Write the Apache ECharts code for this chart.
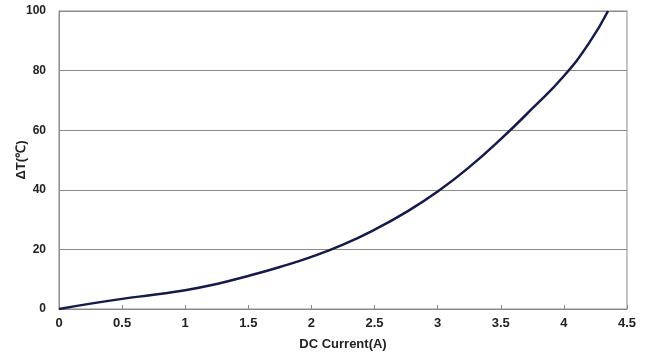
<!DOCTYPE html>
<html>
<head>
<meta charset="utf-8">
<script src="https://cdn.jsdelivr.net/npm/echarts@6/dist/echarts.min.js"></script>
<style>html,body{margin:0;padding:0;background:#fff;}#c{width:648px;height:356px;}</style>
</head>
<body>
<div id="c"></div>
<script>
const currentA = [0, 0.25, 0.5, 0.75, 1, 1.25, 1.5, 1.75, 2, 2.25, 2.5, 2.75, 3, 3.25, 3.5, 3.75, 4, 4.2, 4.35];
const deltaT   = [0, 1.8, 3.4, 4.8, 6.3, 8.4, 11.1, 14.1, 17.5, 21.6, 26.6, 32.5, 39.4, 47.6, 57, 67.3, 78.2, 89.3, 100];
const xTicks = ['0','0.5','1','1.5','2','2.5','3','3.5','4','4.5'];
const yTicks = ['0','20','40','60','80','100'];

const chart = echarts.init(document.getElementById('c'));
const font = 'Liberation Sans, Arial, sans-serif';
chart.setOption({
  backgroundColor: '#fff',
  animation: false,
  grid: { left: 59, right: 21, top: 11, bottom: 47, show: true, borderColor: '#8a8a8a', borderWidth: 1,
          containLabel: false, outerBoundsMode: 'none' },
  xAxis: {
    type: 'value', min: 0, max: 4.5, interval: 0.5,
    name: 'DC Current(A)', nameLocation: 'middle', nameGap: 29,
    nameTextStyle: { fontFamily: font, fontWeight: 'bold', fontSize: 13, color: '#222' },
    axisLine: { show: true, lineStyle: { color: '#8a8a8a', width: 1 } },
    axisTick: { show: true, inside: true, length: 4, lineStyle: { color: '#8a8a8a' } },
    axisLabel: { fontFamily: font, fontWeight: 'bold', fontSize: 13, color: '#222', margin: 8,
      formatter: v => { const i = Math.round(v / 0.5); return xTicks[i] !== undefined ? xTicks[i] : ''; } },
    splitLine: { show: false }
  },
  yAxis: {
    type: 'value', min: 0, max: 100, interval: 20,
    name: 'ΔT(℃)', nameLocation: 'middle', nameGap: 31, nameRotate: 90, nameMoveOverlap: false,
    nameTextStyle: { fontFamily: font, fontWeight: 'bold', fontSize: 13, color: '#222' },
    axisLine: { show: true, lineStyle: { color: '#8a8a8a', width: 1 } },
    axisTick: { show: false },
    axisLabel: { fontFamily: font, fontWeight: 'bold', fontSize: 12, color: '#222', margin: 13,
      formatter: v => { const i = Math.round(v / 20); return yTicks[i] !== undefined ? yTicks[i] : ''; } },
    splitLine: { show: true, lineStyle: { color: '#8a8a8a', width: 1 } }
  },
  series: [{
    type: 'line',
    data: currentA.map((x, i) => [x, deltaT[i]]),
    smooth: 0.5,
    showSymbol: false,
    lineStyle: { color: '#141a4a', width: 2.5 }
  }]
});
</script>
</body>
</html>
